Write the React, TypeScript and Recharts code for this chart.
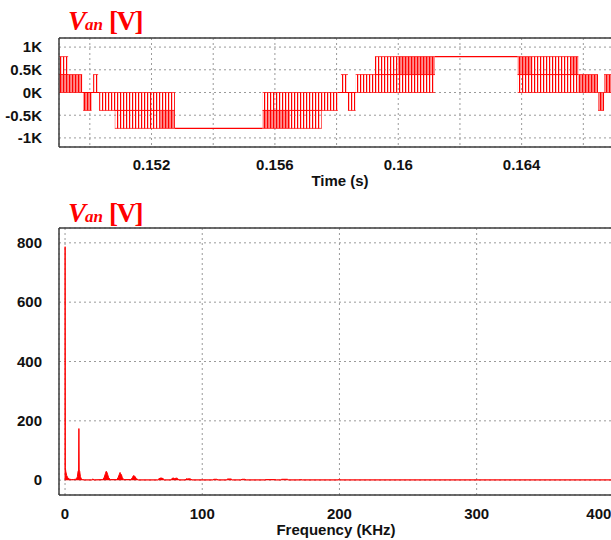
import React from 'react';
import { ComposedChart, Area, Line, XAxis, YAxis, CartesianGrid, ReferenceLine } from 'recharts';

const RED = '#ff0000';
const FRAME = '#3c3c3c';
const GRID = '#9a9a9a';

// ---------- top chart: time domain ----------
const timeTicks = [0.15, 0.152, 0.154, 0.156, 0.158, 0.16, 0.162, 0.164, 0.166, 0.168];
const timeTickLabels = ['', '0.152', '', '0.156', '', '0.16', '', '0.164', '', ''];
const voltTicks = [-1000, -500, 0, 500, 1000];
const voltTickLabels = ['-1K', '-0.5K', '0K', '0.5K', '1K'];

// PWM switching bands (time span, low level, high level, dense look)
const pwmStart = [0.149, 0.149, 0.149783, 0.150107, 0.150302, 0.150811, 0.15227, 0.155602, 0.156487, 0.155602, 0.158141, 0.158368, 0.158618, 0.159244, 0.15999, 0.163872, 0.164336, 0.165569, 0.163872, 0.165838, 0.166477, 0.166672];
const pwmEnd = [0.149296, 0.14975, 0.150055, 0.150269, 0.152757, 0.15227, 0.152757, 0.156487, 0.157515, 0.158044, 0.158368, 0.158618, 0.16119, 0.15999, 0.16119, 0.164336, 0.165569, 0.165838, 0.165838, 0.166477, 0.166672, 0.1672];
const pwmLow = [395, 0, -395, 0, -395, -790, -790, -790, -790, -395, 0, -395, 0, 395, 395, 395, 395, 395, 0, 0, -395, 0];
const pwmHigh = [790, 395, 0, 395, 0, -395, -395, -395, -395, 0, 395, 0, 395, 790, 790, 790, 790, 790, 395, 395, 0, 395];
const pwmDense = [false, true, true, false, false, false, true, true, false, false, false, false, false, false, true, true, false, true, false, true, true, true];

// constant (non-switching) stretches of the waveform
const flatStart = [0.14975, 0.152757, 0.158044, 0.16119];
const flatEnd = [0.150302, 0.155602, 0.158618, 0.163872];
const flatLevel = [0, -790, 0, 790];

// ---------- bottom chart: spectrum ----------
const freqTicks = [0, 100, 200, 300, 400];
const ampTicks = [0, 200, 400, 600, 800];
const fftPoints: [number, number][] = [
  [0, 0], [0.06, 787], [0.2, 42], [0.6, 28], [1.2, 16], [2, 8], [3, 4], [4.5, 2], [6, 2],
  [7.5, 3], [8.5, 6], [9.0, 12], [9.5, 30], [9.9, 34], [10.1, 174], [10.3, 34], [10.7, 30], [11.2, 12], [11.8, 5], [12.8, 2], [14, 1],
  [19.5, 1], [20.3, 4], [21.2, 1],
  [27.5, 2], [28.6, 10], [29.4, 22], [30.0, 30], [30.4, 28], [31.0, 20], [31.8, 8], [33, 2],
  [37.8, 2], [38.8, 10], [39.6, 20], [40.1, 26], [40.5, 22], [41.1, 18], [41.8, 8], [42.8, 2],
  [48, 2], [49, 8], [49.8, 15], [50.4, 15], [51, 12], [52, 5], [53.5, 1],
  [67.5, 1], [68.5, 5], [69.5, 7], [70.5, 7], [71.5, 5], [72.5, 1],
  [77, 1], [78, 6], [79, 7], [80, 5], [81, 7], [82, 6], [83, 1],
  [87.5, 1], [88.5, 5], [89.5, 4], [90.5, 5], [91.5, 4], [92.5, 1],
  [107.5, 1], [108.5, 3], [110.5, 3], [111.5, 1],
  [117.5, 1], [118.5, 4], [121, 4], [122, 1],
  [128, 1], [129, 3], [131, 3], [132, 1],
  [145.5, 1], [146.5, 2], [153, 2], [154, 1],
  [157, 1], [158, 3], [162, 3], [163, 1],
  [170.5, 1], [171.5, 2], [173, 1],
  [199, 1], [200, 3], [201, 1], [422, 1],
];

// ---------- tables built from the arrays ----------
const allTimes = Array.from(new Set([...pwmStart, ...pwmEnd, ...flatStart, ...flatEnd])).sort((a, b) => a - b);
const waveData = allTimes.map((t) => {
  const row: any = { t };
  pwmStart.forEach((s, i) => {
    row['b' + i] = t >= s - 1e-12 && t <= pwmEnd[i] + 1e-12 ? [pwmLow[i], pwmHigh[i]] : null;
  });
  let lvl: number | null = null;
  flatStart.forEach((s, i) => {
    if (t >= s - 1e-12 && t <= flatEnd[i] + 1e-12) lvl = flatLevel[i];
  });
  row.lvl = lvl;
  return row;
});
const fftData = fftPoints.map(([f, a]) => ({ f, a }));

const tickStyle = { fill: '#111', fontSize: 15, fontWeight: 700, fontFamily: "'Liberation Sans', Arial, sans-serif" };

const labelOf = (ticks: number[], labels: string[]) => (v: number) => {
  const k = ticks.findIndex((x) => Math.abs(x - v) < 1e-9);
  return k >= 0 ? labels[k] : '';
};

const FreqTick = (props: any) => {
  const { x, y, payload } = props;
  const shift = payload.value === 400 ? -15 : 0;
  return (
    <text x={x + shift} y={y} dy="0.71em" textAnchor="middle" {...tickStyle}>
      {payload.value}
    </text>
  );
};

const Title = ({ top }: { top: number }) => (
  <div
    style={{
      position: 'absolute', left: 68, top, whiteSpace: 'nowrap',
      fontFamily: "'Liberation Serif', 'Times New Roman', serif",
      fontSize: 27, lineHeight: '27px', fontWeight: 700, color: RED,
    }}
  >
    <i>V</i>
    <i style={{ fontSize: 17, marginLeft: -1 }}>an</i>
    <span style={{ marginLeft: 6, letterSpacing: -1.5 }}>[V]</span>
  </div>
);

const axisLabelStyle: React.CSSProperties = {
  position: 'absolute', width: 220, textAlign: 'center', whiteSpace: 'nowrap',
  fontFamily: "'Liberation Sans', Arial, sans-serif", fontSize: 15, lineHeight: '15px',
  fontWeight: 700, color: '#111',
};

export default function App() {
  return (
    <div style={{ position: 'absolute', left: 0, top: 0, width: 611, height: 540, overflow: 'hidden', background: '#fff' }}>
      <div style={{ position: 'absolute', left: 0, top: 0 }}>
        <ComposedChart width={660} height={200} data={waveData} margin={{ top: 38, right: 15, left: 0, bottom: 0 }}>
          <defs>
            <pattern id="pwmSparse" patternUnits="userSpaceOnUse" width="3" height="4">
              <rect x="0" y="0" width="1.2" height="4" fill={RED} />
            </pattern>
            <pattern id="pwmDense" patternUnits="userSpaceOnUse" width="3" height="4">
              <rect x="0" y="0" width="3" height="4" fill="#ff8c8c" />
              <rect x="0" y="0" width="1.2" height="4" fill={RED} />
            </pattern>
          </defs>
          <CartesianGrid stroke={GRID} strokeDasharray="2 3" />
          <XAxis
            dataKey="t" type="number" domain={[0.149, 0.168]} allowDataOverflow
            ticks={timeTicks} interval={0} tickFormatter={labelOf(timeTicks, timeTickLabels)}
            tickLine={false} tickSize={0} tickMargin={12} height={53}
            axisLine={{ stroke: FRAME, strokeWidth: 1.5 }} tick={tickStyle}
          />
          <YAxis
            type="number" domain={[-1200, 1200]} allowDataOverflow ticks={voltTicks} interval={0}
            tickFormatter={labelOf(voltTicks, voltTickLabels)} width={59}
            tickLine={false} tickSize={0} tickMargin={17}
            axisLine={{ stroke: FRAME, strokeWidth: 1.5 }} tick={tickStyle}
          />
          {pwmStart.map((_, i) => (
            <Area
              key={'b' + i} dataKey={'b' + i} type="linear" isAnimationActive={false}
              stroke={RED} strokeOpacity={0.7} strokeWidth={1}
              fill={pwmDense[i] ? 'url(#pwmDense)' : 'url(#pwmSparse)'} fillOpacity={1}
              dot={false} activeDot={false} connectNulls={false}
            />
          ))}
          <Line dataKey="lvl" type="linear" stroke={RED} strokeWidth={1.2} dot={false} activeDot={false} connectNulls={false} isAnimationActive={false} />
          <ReferenceLine y={1200} stroke={FRAME} strokeWidth={1.5} />
        </ComposedChart>
      </div>
      <div style={{ ...axisLabelStyle, left: 340 - 110, top: 173 }}>Time (s)</div>
      <Title top={8} />

      <div style={{ position: 'absolute', left: 0, top: 190 }}>
        <ComposedChart width={660} height={350} data={fftData} margin={{ top: 38, right: 15, left: 0, bottom: 0 }}>
          <CartesianGrid stroke={GRID} strokeDasharray="2 3" />
          <XAxis
            dataKey="f" type="number" domain={[-4.4, 422.7]} allowDataOverflow ticks={freqTicks} interval={0}
            tickLine={false} tickSize={0} tickMargin={13} height={45}
            axisLine={{ stroke: FRAME, strokeWidth: 1.5 }} tick={<FreqTick />}
          />
          <YAxis
            type="number" domain={[-50, 850]} allowDataOverflow ticks={ampTicks} interval={0} width={59}
            tickLine={false} tickSize={0} tickMargin={17}
            axisLine={{ stroke: FRAME, strokeWidth: 1.5 }} tick={tickStyle}
          />
          <Area
            dataKey="a" type="linear" baseValue={0} isAnimationActive={false}
            stroke={RED} strokeWidth={1} fill={RED} fillOpacity={1} dot={false} activeDot={false}
          />
          <ReferenceLine y={850} stroke={FRAME} strokeWidth={1.5} />
        </ComposedChart>
      </div>
      <div style={{ ...axisLabelStyle, left: 336 - 110, top: 522 }}>Frequency (KHz)</div>
      <Title top={200} />
    </div>
  );
}
